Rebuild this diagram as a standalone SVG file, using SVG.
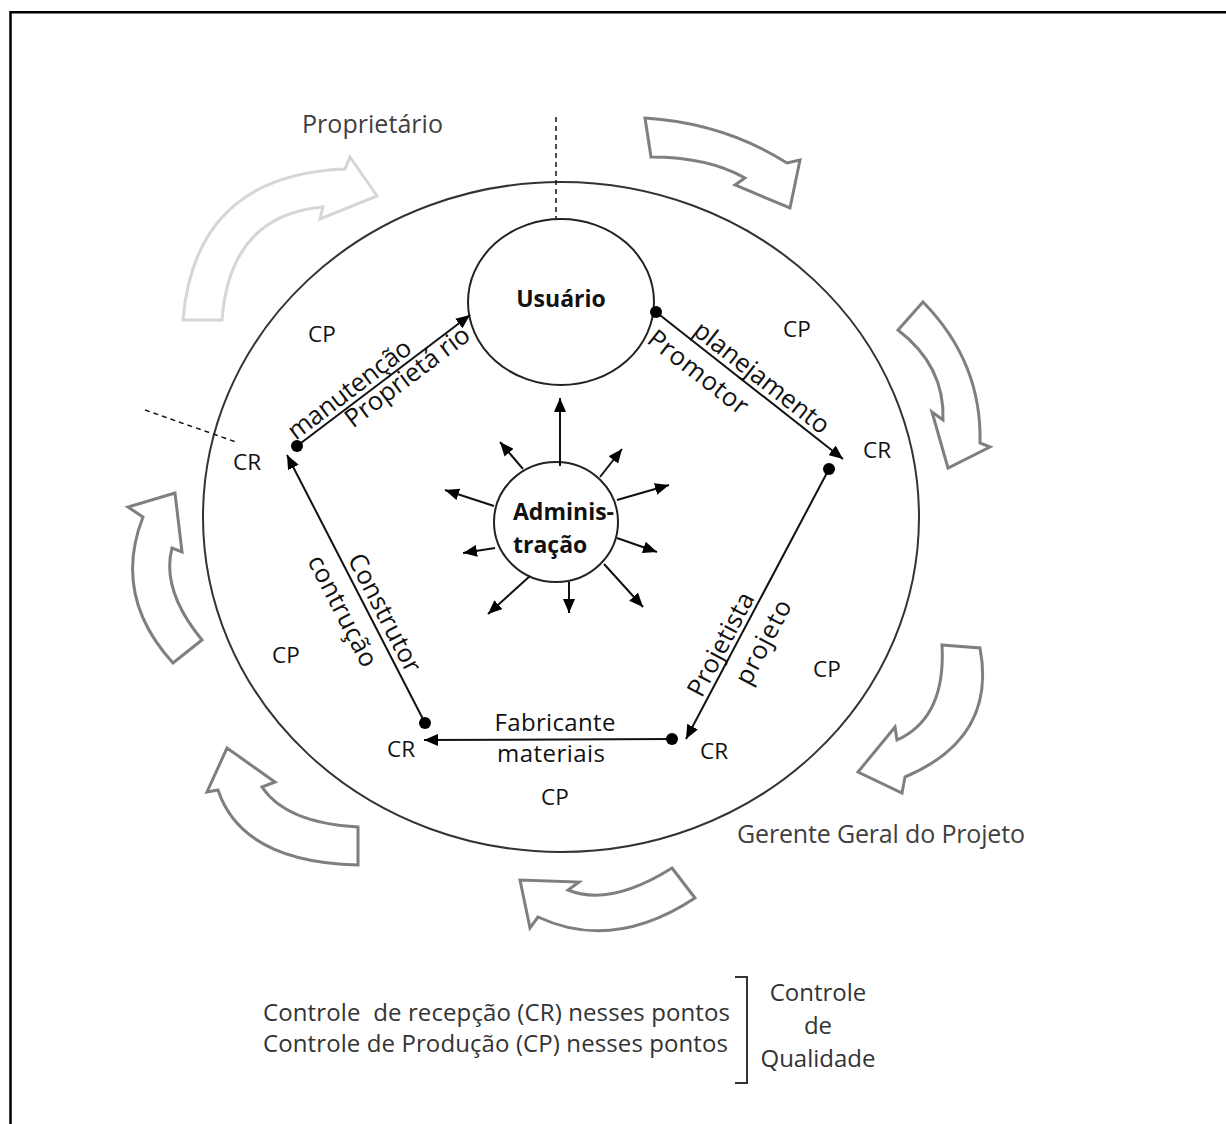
<svg xmlns="http://www.w3.org/2000/svg" width="1226" height="1124" viewBox="0 0 1226 1124">
<style>
  text { font-family: "Open Sans", "Liberation Sans", sans-serif; fill: #111; }
  .lbl { font-size: 22.5px; }
  .mid { font-size: 24px; }
  .rot { font-size: 25.5px; }
  .outer { font-size: 25px; fill: #404040; }
  .leg { font-size: 24px; fill: #333; }
  .bold { font-size: 23px; font-weight: bold; }
  .blk { fill: #fff; stroke: #7f7f7f; stroke-width: 3; stroke-linejoin: miter; }
  .light { stroke: #d6d6d6; }
  .edge { stroke: #111; stroke-width: 2; fill: none; marker-end: url(#ah); }
  .dot { fill: #000; }
  .dash { stroke: #111; stroke-width: 1.5; stroke-dasharray: 5 4; fill: none; }
  .ring { fill: #fff; stroke: #222; stroke-width: 2; }
</style>
<defs>
  <marker id="ah" viewBox="0 0 14 12" refX="14" refY="6" markerWidth="14" markerHeight="12" orient="auto" markerUnits="userSpaceOnUse">
    <path d="M0,0 L14,6 L0,12 z" fill="#000"/>
  </marker>
</defs>
<rect width="1226" height="1124" fill="#fff"/>
<path d="M10.5,1124 V12.2 H1226" fill="none" stroke="#000" stroke-width="2.5"/>

<g id="cycle-arrows">
  <path class="blk light" d="M183,320 Q195,175 345,169 L350,157 L377,196 L320,219 L323,207 Q230,215 222,320 Z"/>
  <path class="blk" d="M645,118 Q724,123 787,163 L800,160 L790,208 L735,185 L745,178 Q708,157 651,157 Z"/>
  <path class="blk" d="M923,302 Q982,362 980,443 L990,447 L948,468 L932,412 L943,420 Q945,366 898,330 Z"/>
  <path class="blk" d="M942,645 L980,648 Q997,738 905,777 L902,793 L858,772 L895,727 L897,740 Q946,718 942,645 Z"/>
  <path class="blk" d="M672,868 L695,898 Q613,952 538,917 L530,928 L520,880 L579,882 L568,890 Q610,907 672,868 Z"/>
  <path class="blk" d="M358,827 L358,865 Q242,862 218,790 L207,792 L227,748 L275,782 L262,787 Q286,823 358,827 Z"/>
  <path class="blk" d="M173,663 Q112,596 143,517 L128,507 L175,493 L182,552 L172,548 Q161,590 202,640 Z"/>
</g>

<g id="boundary">
  <ellipse cx="561" cy="517" rx="358" ry="335" fill="none" stroke="#333" stroke-width="2"/>
  <line class="dash" x1="556" y1="117" x2="556" y2="220"/>
  <line class="dash" x1="145" y1="410" x2="236" y2="442"/>
</g>

<g id="node-usuario">
  <ellipse class="ring" cx="561" cy="302" rx="93" ry="83"/>
  <text class="bold" x="561" y="307" text-anchor="middle">Usuário</text>
</g>

<g id="node-administracao">
  <ellipse class="ring" cx="556" cy="522" rx="62" ry="60"/>
  <text class="bold" x="513" y="520">Adminis-</text>
  <text class="bold" x="513" y="553">tração</text>
</g>

<g id="connectors">
  <line class="edge" x1="297" y1="446" x2="470" y2="315"/>
  <line class="edge" x1="656" y1="312" x2="843" y2="459"/>
  <line class="edge" x1="829" y1="469" x2="686" y2="739"/>
  <line class="edge" x1="672" y1="739" x2="424" y2="740"/>
  <line class="edge" x1="425" y1="723" x2="287" y2="455"/>
  <circle class="dot" cx="297" cy="446" r="6"/>
  <circle class="dot" cx="656" cy="312" r="6"/>
  <circle class="dot" cx="829" cy="469" r="6"/>
  <circle class="dot" cx="672" cy="739" r="6"/>
  <circle class="dot" cx="425" cy="723" r="6"/>

  <line class="edge" x1="560" y1="466" x2="560" y2="398"/>
  <line class="edge" x1="523" y1="469" x2="500" y2="442"/>
  <line class="edge" x1="600" y1="477" x2="622" y2="449"/>
  <line class="edge" x1="494" y1="506" x2="445" y2="490"/>
  <line class="edge" x1="617" y1="500" x2="669" y2="485"/>
  <line class="edge" x1="495" y1="548" x2="463" y2="553"/>
  <line class="edge" x1="617" y1="538" x2="657" y2="552"/>
  <line class="edge" x1="530" y1="576" x2="488" y2="614"/>
  <line class="edge" x1="569" y1="582" x2="569" y2="613"/>
  <line class="edge" x1="604" y1="564" x2="643" y2="607"/>
</g>

<g id="edge-labels">
  <text class="rot" text-anchor="middle" textLength="148" lengthAdjust="spacing" transform="translate(354.6,396.1) rotate(-37.2)">manutenção</text>
  <text class="rot" text-anchor="middle" transform="translate(412.5,383.5) rotate(-37.2)">Proprietá<tspan dx="6">rio</tspan></text>
  <text class="rot" text-anchor="middle" textLength="165" lengthAdjust="spacing" transform="translate(756.3,384.3) rotate(38.1)">planejamento</text>
  <text class="rot" text-anchor="middle" textLength="120" lengthAdjust="spacing" transform="translate(692.9,379) rotate(38.1)">Promotor</text>
  <text class="rot" text-anchor="middle" textLength="130" lengthAdjust="spacing" transform="translate(377,616.8) rotate(62.75)">Construtor</text>
  <text class="rot" text-anchor="middle" textLength="122" lengthAdjust="spacing" transform="translate(335,615) rotate(62.75)">contrução</text>
  <text class="rot" text-anchor="middle" textLength="114" lengthAdjust="spacing" transform="translate(728.4,648.3) rotate(-62.1)">Projetista</text>
  <text class="rot" text-anchor="middle" textLength="92" lengthAdjust="spacing" transform="translate(771,646) rotate(-62.1)">projeto</text>
  <text class="mid" x="555" y="731" text-anchor="middle" textLength="121" lengthAdjust="spacing">Fabricante</text>
  <text class="mid" x="551" y="762" text-anchor="middle" textLength="108" lengthAdjust="spacing">materiais</text>
</g>

<g id="control-points">
  <text class="lbl" x="308" y="342">CP</text>
  <text class="lbl" x="783" y="337">CP</text>
  <text class="lbl" x="233" y="470">CR</text>
  <text class="lbl" x="863" y="458">CR</text>
  <text class="lbl" x="272" y="663">CP</text>
  <text class="lbl" x="813" y="677">CP</text>
  <text class="lbl" x="387" y="757">CR</text>
  <text class="lbl" x="700" y="759">CR</text>
  <text class="lbl" x="541" y="805">CP</text>
</g>

<g id="outer-labels">
  <text class="outer" x="302" y="133" textLength="141" lengthAdjust="spacing">Proprietário</text>
  <text class="outer" x="737" y="843" textLength="288" lengthAdjust="spacing">Gerente Geral do Projeto</text>
</g>

<g id="legend">
  <text class="leg" x="263" y="1021" textLength="467" lengthAdjust="spacing" xml:space="preserve">Controle  de recepção (CR) nesses pontos</text>
  <text class="leg" x="263" y="1052" textLength="465" lengthAdjust="spacing">Controle de Produção (CP) nesses pontos</text>
  <path d="M735,977 H747 V1083 H735" fill="none" stroke="#333" stroke-width="2"/>
  <text class="leg" x="818" y="1001" text-anchor="middle">Controle</text>
  <text class="leg" x="818" y="1034" text-anchor="middle">de</text>
  <text class="leg" x="818" y="1067" text-anchor="middle">Qualidade</text>
</g>
</svg>
